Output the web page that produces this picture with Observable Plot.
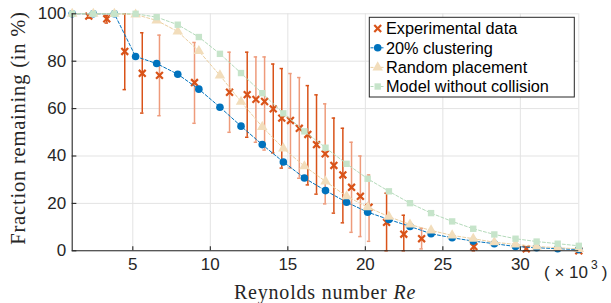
<!DOCTYPE html>
<html><head><meta charset="utf-8">
<script src="https://cdn.jsdelivr.net/npm/d3@7"></script>
<script src="https://cdn.jsdelivr.net/npm/@observablehq/plot@0.6"></script>
<style>
html,body{margin:0;padding:0;background:#fff;}
#chart{width:611px;height:303px;overflow:hidden;}
</style></head>
<body><div id="chart"></div>
<script>
// ---- data (Re in thousands, fraction in %) ----
const modelRe = [1.09, 2.45, 3.81, 5.18, 6.54, 7.90, 9.26, 10.62, 11.98, 13.35, 14.71, 16.07, 17.43, 18.79, 20.15, 21.52, 22.88, 24.24, 25.60, 26.96, 28.32, 29.69, 31.05, 32.41, 33.77];
const clustering = [100, 100, 100, 82.0, 79.0, 74.5, 68.2, 60.6, 52.6, 44.8, 37.5, 30.7, 25.4, 20.5, 16.3, 13.2, 10.3, 7.2, 5.5, 4.1, 3.0, 1.8, 1.3, 0.9, 0.5];
const randomPlacement = [100, 100, 100, 99.7, 97.2, 92.5, 84.3, 74.0, 62.9, 52.3, 43.2, 35.7, 29.3, 23.0, 18.4, 14.4, 11.1, 8.6, 6.5, 5.1, 3.6, 2.7, 1.8, 1.3, 0.8];
const noCollision = [100, 100, 100, 100, 98.6, 95.4, 90.2, 83.1, 75.0, 66.5, 58.0, 50.4, 43.5, 36.7, 30.4, 25.1, 20.1, 15.9, 12.4, 9.3, 6.9, 5.1, 3.9, 3.0, 2.1];

const expRe   = [2.16, 3.32, 4.48, 5.61, 6.72, 8.98, 11.24, 12.38, 12.94, 13.50, 14.06, 14.61, 15.17, 15.74, 16.29, 16.85, 17.41, 17.97, 18.55, 19.11, 19.68, 20.24, 21.37, 22.48, 23.63, 27.00, 30.38, 33.77];
const expMean = [99.0, 97.9, 84.1, 74.9, 74.0, 71.0, 66.9, 65.9, 63.9, 63.0, 59.9, 56.0, 55.0, 51.7, 49.1, 44.8, 40.9, 36.0, 32.0, 26.8, 23.0, 18.4, 12.0, 7.0, 5.1, 1.8, 0.8, 0.0];
const expLow  = [98.2, 96.1, 68.0, 58.1, 57.0, 53.8, 50.0, 47.9, 45.8, 42.5, 41.3, 34.9, 34.9, 30.6, 27.8, 23.9, 19.8, 15.9, 11.8, 7.8, 6.0, 4.0, 0.0, 0.0, 0.8, 0.0, 0.0, 0.0];
const expHigh = [99.8, 99.3, 100, 92.0, 91.0, 87.9, 83.8, 83.8, 81.8, 81.8, 78.8, 76.9, 74.8, 73.1, 69.7, 65.8, 62.0, 56.0, 51.7, 45.8, 40.0, 32.0, 24.3, 15.0, 9.5, 3.6, 1.6, 0.5];
const expRun  = ["A","A","A","A","B","B","B","A","B","B","A","A","B","B","A","A","B","A","A","B","B","B","A","A","B","A","A","A"];

const xTicks = [5, 10, 15, 20, 25, 30];
const yTicks = [0, 20, 40, 60, 80, 100];
const xDomain = [1.09, 33.77];
const yDomain = [0, 100];

const seriesNames = ["Experimental data", "20% clustering", "Random placement", "Model without collision"];
const yLabel = "Fraction remaining (in %)";
const xLabel = "Reynolds number ";
const xLabelVar = "Re";

// ---- tables ----
const model = modelRe.map((re, i) => ({re, clu: clustering[i], rnd: randomPlacement[i], noc: noCollision[i]}));
const exp = expRe.map((re, i) => ({re, m: expMean[i], lo: expLow[i], hi: expHigh[i], run: expRun[i]}));

const C = {
  exp: "#D95319", expLight: "#EE9B7B", blue: "#0072BD",
  tri: "#F2DDBB", triLine: "#EBCFA0", sq: "#C6E4CA", sqLine: "#B4DABA",
  grid: "#E3E3E3", axis: "#262626"
};
const capHalf = 0.11;
const barColor = d => d.run === "A" ? C.exp : C.expLight;

const chart = Plot.plot({
  width: 611, height: 303,
  marginLeft: 71.7, marginRight: 32.7, marginTop: 13.3, marginBottom: 52.7,
  style: {fontFamily: "'Liberation Sans', Arial, sans-serif", fontSize: "17px", color: C.axis, background: "#fff", overflow: "visible"},
  x: {domain: xDomain, label: null},
  y: {domain: yDomain, label: null},
  marks: [
    Plot.gridX(xTicks, {stroke: C.grid, strokeOpacity: 1, strokeWidth: 1}),
    Plot.gridY(yTicks, {stroke: C.grid, strokeOpacity: 1, strokeWidth: 1}),
    Plot.ruleX([xDomain[1]], {stroke: C.grid, strokeWidth: 1}),
    // experimental error bars
    Plot.ruleX(exp, {x: "re", y1: "lo", y2: "hi", stroke: barColor, strokeWidth: 1.5}),
    Plot.ruleY(exp, {y: "lo", x1: d => d.re - capHalf, x2: d => d.re + capHalf, stroke: barColor, strokeWidth: 1.5}),
    Plot.ruleY(exp, {y: "hi", x1: d => d.re - capHalf, x2: d => d.re + capHalf, stroke: barColor, strokeWidth: 1.5}),
    Plot.dot(exp, {x: "re", y: "m", symbol: "times", r: 3.2, stroke: C.exp, strokeWidth: 2.2}),
    // 20% clustering
    Plot.line(model, {x: "re", y: "clu", stroke: C.blue, strokeWidth: 1, strokeDasharray: "3,2"}),
    Plot.dot(model, {x: "re", y: "clu", r: 3.8, fill: C.blue, stroke: "none"}),
    // random placement
    Plot.line(model, {x: "re", y: "rnd", stroke: C.triLine, strokeWidth: 1, strokeDasharray: "3,2"}),
    Plot.dot(model, {x: "re", y: "rnd", symbol: "triangle", r: 3.9, fill: C.tri, stroke: "none"}),
    // model without collision
    Plot.line(model, {x: "re", y: "noc", stroke: C.sqLine, strokeWidth: 1, strokeDasharray: "3,2"}),
    Plot.dot(model, {x: "re", y: "noc", symbol: "square", r: 3.6, fill: C.sq, stroke: "none"}),
    // axes
    Plot.ruleY([yDomain[0]], {stroke: C.axis, strokeWidth: 1.1}),
    Plot.ruleX([xDomain[0]], {stroke: C.axis, strokeWidth: 1.1}),
    Plot.ruleX(xTicks, {y1: yDomain[0], y2: yDomain[0] + 1.7, stroke: C.axis, strokeWidth: 1.1}),
    Plot.ruleY(yTicks, {x1: xDomain[0], x2: xDomain[0] + 0.3, stroke: C.axis, strokeWidth: 1.1}),
    Plot.axisX(xTicks, {tickSize: 0, tickPadding: 7, fill: C.axis, fontSize: 17}),
    Plot.axisY(yTicks, {tickSize: 0, tickPadding: 6, fill: C.axis, fontSize: 17})
  ]
});

document.getElementById("chart").appendChild(chart);
const svg = d3.select(chart);
const serif = "'Liberation Serif', 'Times New Roman', serif";
const sans = "'Liberation Sans', Arial, sans-serif";

// y label
svg.append("text").attr("transform", "translate(18,128) rotate(-90)")
  .attr("text-anchor", "middle").attr("dy", "0.35em")
  .attr("font-family", serif).attr("font-size", 20.5).attr("fill", C.axis)
  .style("letter-spacing", "0.8px").text(yLabel);

// x label
const xl = svg.append("text").attr("x", 325).attr("y", 292).attr("dy", "0.35em")
  .attr("text-anchor", "middle").attr("font-family", serif).attr("font-size", 20).attr("fill", C.axis)
  .style("letter-spacing", "0.8px");
xl.append("tspan").text(xLabel);
xl.append("tspan").attr("font-style", "italic").text(xLabelVar);

// exponent note (× 10^3)
const ex = svg.append("text").attr("x", 544).attr("y", 278).attr("text-anchor", "start")
  .attr("fill", C.axis).attr("font-family", sans).attr("font-size", 17);
ex.append("tspan").text("( \u00D7 10");
ex.append("tspan").attr("dx", 3).attr("dy", -9).attr("font-size", 12).text("3");
ex.append("tspan").attr("dx", 4).attr("dy", 9).text(")");

// legend
const lg = svg.append("g").attr("font-family", sans).attr("font-size", 16.3).attr("fill", "#000").attr("text-anchor", "start");
lg.append("rect").attr("x", 369.3).attr("y", 17.3).attr("width", 205).attr("height", 79.7)
  .attr("fill", "#fff").attr("stroke", C.axis).attr("stroke-width", 1);
const rowsY = [28.5, 47.8, 67.4, 86.5];
const mx = 377.7;
const styles = [
  {line: null, sym: d3.symbolTimes, fill: "none", stroke: C.exp, sw: 2.2, r: 3.2},
  {line: C.blue, sym: d3.symbolCircle, fill: C.blue, stroke: "none", r: 3.8},
  {line: C.triLine, sym: d3.symbolTriangle, fill: C.tri, stroke: "none", r: 3.9},
  {line: C.sqLine, sym: d3.symbolSquare, fill: C.sq, stroke: "none", r: 3.6}
];
seriesNames.forEach((name, i) => {
  const s = styles[i], y = rowsY[i];
  if (s.line) lg.append("line").attr("x1", 370.5).attr("x2", 385.5).attr("y1", y).attr("y2", y)
    .attr("stroke", s.line).attr("stroke-width", 1).attr("stroke-dasharray", "3,2");
  lg.append("path").attr("transform", `translate(${mx},${y})`)
    .attr("d", d3.symbol(s.sym, Math.PI * s.r * s.r)())
    .attr("fill", s.fill).attr("stroke", s.stroke).attr("stroke-width", s.sw || 0);
  lg.append("text").attr("x", 386).attr("y", y).attr("dy", "0.36em").attr("text-anchor", "start").text(name);
});
</script>
</body></html>
